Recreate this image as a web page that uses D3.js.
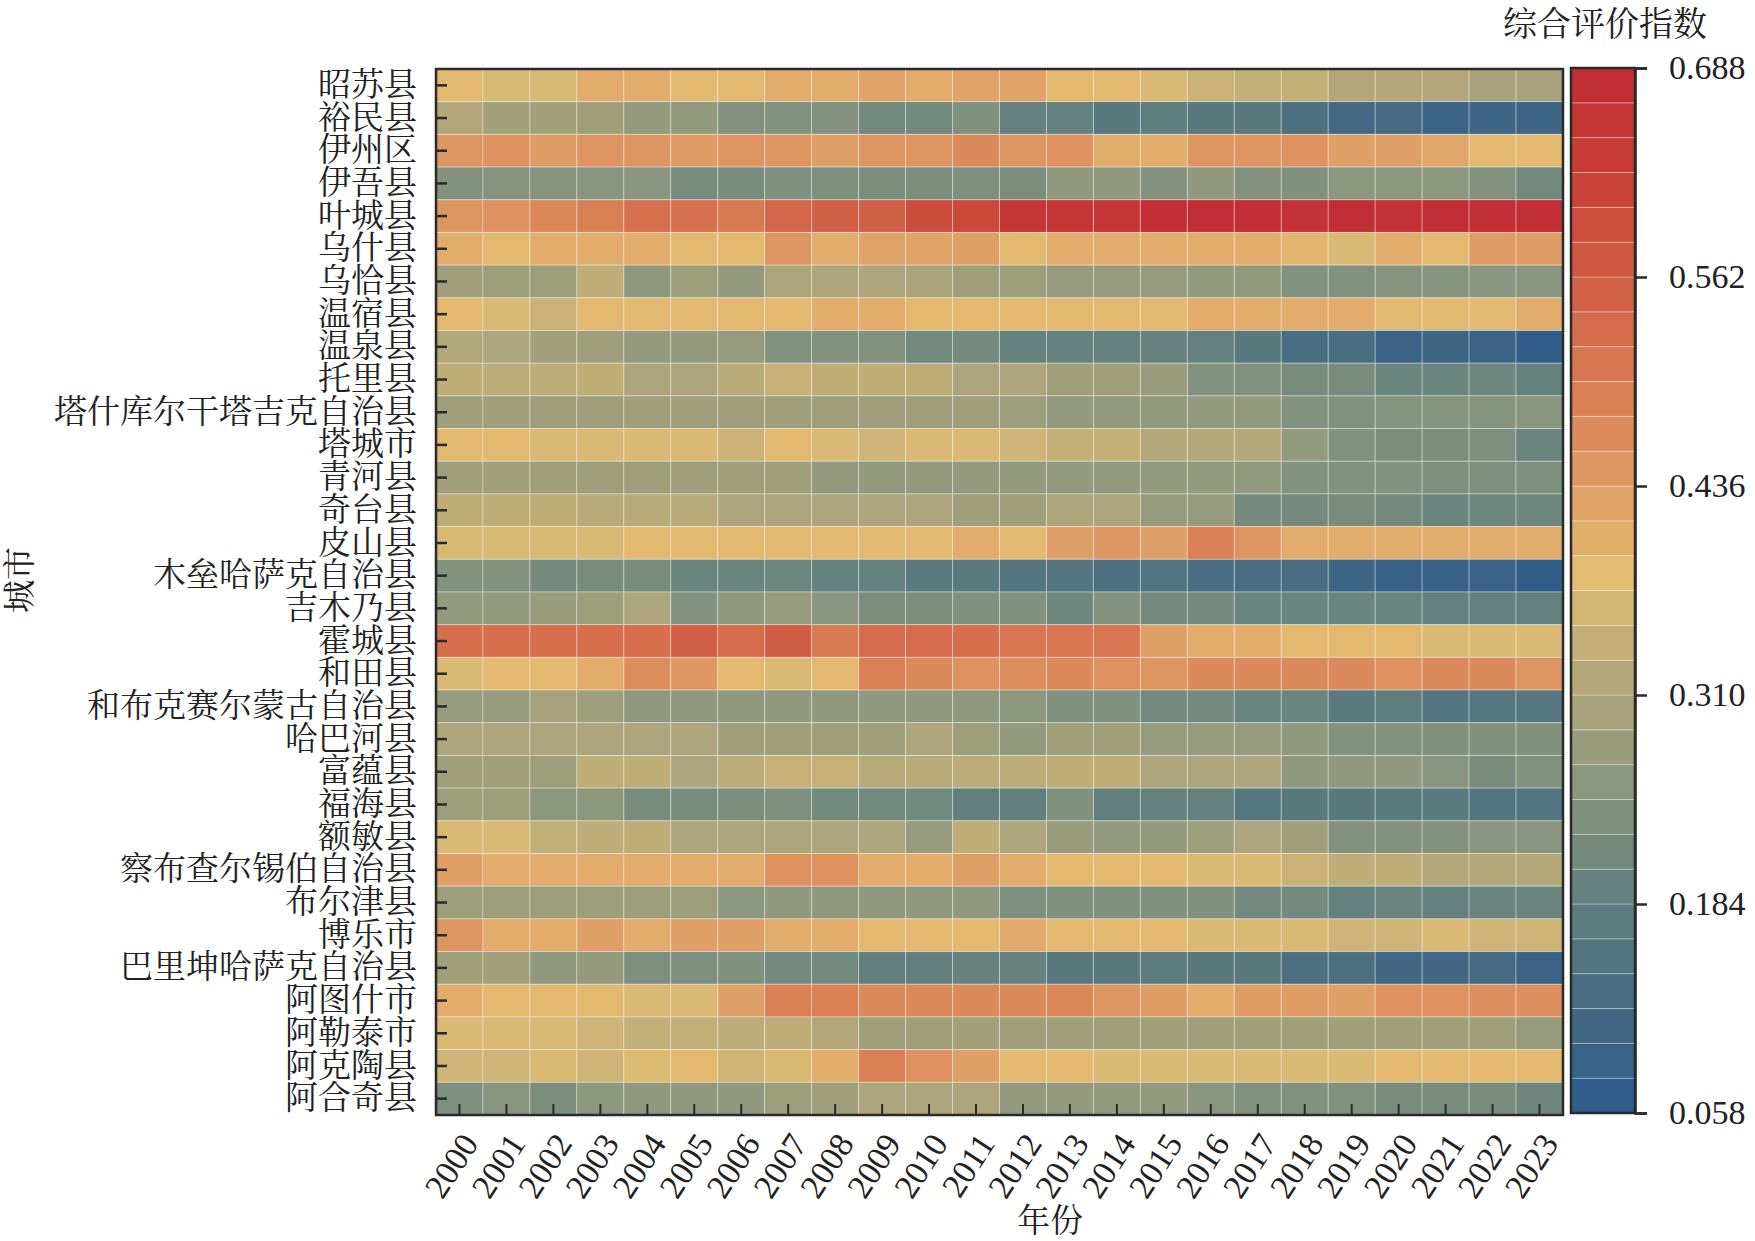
<!DOCTYPE html>
<html>
<head>
<meta charset="utf-8">
<script src="https://cdn.jsdelivr.net/npm/d3@7"></script>
<style>
  body { margin: 0; background: #fff; }
  svg text { fill: #222; }
</style>
</head>
<body>
<svg id="chart"></svg>
<script>

// rows, top to bottom
var cities = ["昭苏县","裕民县","伊州区","伊吾县","叶城县","乌什县","乌恰县","温宿县","温泉县","托里县",
  "塔什库尔干塔吉克自治县","塔城市","青河县","奇台县","皮山县","木垒哈萨克自治县","吉木乃县","霍城县","和田县",
  "和布克赛尔蒙古自治县","哈巴河县","富蕴县","福海县","额敏县","察布查尔锡伯自治县","布尔津县","博乐市",
  "巴里坤哈萨克自治县","阿图什市","阿勒泰市","阿克陶县","阿合奇县"];

var years = ["2000","2001","2002","2003","2004","2005","2006","2007","2008","2009","2010","2011",
  "2012","2013","2014","2015","2016","2017","2018","2019","2020","2021","2022","2023"];

// 综合评价指数, one row per city, 2000..2023
var values = [
  [0.39,0.37,0.37,0.41,0.41,0.39,0.39,0.41,0.41,0.425,0.41,0.425,0.425,0.39,0.39,0.37,0.35,0.34,0.34,0.32,0.32,0.32,0.30,0.30],
  [0.315,0.295,0.295,0.29,0.27,0.27,0.245,0.245,0.245,0.215,0.215,0.24,0.19,0.19,0.165,0.18,0.165,0.165,0.14,0.115,0.12,0.095,0.10,0.10],
  [0.45,0.455,0.435,0.45,0.45,0.435,0.45,0.445,0.43,0.45,0.45,0.47,0.45,0.455,0.41,0.41,0.45,0.45,0.455,0.43,0.43,0.42,0.39,0.39],
  [0.245,0.25,0.25,0.255,0.255,0.225,0.225,0.235,0.235,0.23,0.23,0.235,0.23,0.265,0.265,0.245,0.265,0.245,0.24,0.26,0.26,0.26,0.245,0.215],
  [0.45,0.455,0.475,0.49,0.52,0.52,0.50,0.54,0.555,0.555,0.595,0.60,0.66,0.66,0.66,0.68,0.685,0.68,0.67,0.685,0.67,0.685,0.68,0.68],
  [0.41,0.39,0.41,0.41,0.41,0.39,0.39,0.45,0.41,0.425,0.425,0.43,0.39,0.41,0.41,0.41,0.41,0.41,0.395,0.37,0.41,0.39,0.435,0.435],
  [0.29,0.285,0.285,0.335,0.265,0.285,0.27,0.31,0.31,0.31,0.305,0.29,0.285,0.275,0.275,0.275,0.27,0.27,0.245,0.245,0.25,0.25,0.255,0.255],
  [0.39,0.37,0.35,0.39,0.39,0.39,0.39,0.39,0.41,0.41,0.39,0.39,0.39,0.39,0.39,0.39,0.41,0.41,0.41,0.41,0.39,0.39,0.39,0.41],
  [0.315,0.31,0.295,0.29,0.27,0.27,0.275,0.245,0.245,0.245,0.215,0.22,0.19,0.19,0.19,0.195,0.19,0.165,0.13,0.13,0.095,0.10,0.095,0.07],
  [0.335,0.33,0.33,0.335,0.31,0.31,0.325,0.345,0.335,0.335,0.335,0.31,0.31,0.29,0.29,0.28,0.245,0.245,0.225,0.225,0.20,0.20,0.205,0.19],
  [0.29,0.29,0.29,0.29,0.29,0.29,0.29,0.29,0.29,0.29,0.29,0.29,0.285,0.27,0.27,0.27,0.27,0.27,0.245,0.245,0.25,0.25,0.25,0.255],
  [0.39,0.39,0.37,0.37,0.37,0.37,0.35,0.39,0.37,0.355,0.37,0.37,0.355,0.34,0.34,0.32,0.32,0.32,0.27,0.245,0.23,0.23,0.235,0.20],
  [0.29,0.29,0.29,0.29,0.29,0.29,0.29,0.29,0.27,0.27,0.27,0.27,0.27,0.27,0.27,0.27,0.27,0.27,0.245,0.245,0.245,0.235,0.235,0.235],
  [0.335,0.335,0.335,0.325,0.325,0.325,0.31,0.31,0.31,0.31,0.31,0.29,0.29,0.31,0.31,0.275,0.275,0.22,0.22,0.225,0.22,0.20,0.205,0.205],
  [0.37,0.37,0.37,0.37,0.39,0.39,0.39,0.39,0.39,0.39,0.39,0.41,0.39,0.43,0.45,0.43,0.49,0.45,0.41,0.41,0.41,0.41,0.41,0.41],
  [0.245,0.245,0.22,0.225,0.225,0.20,0.20,0.205,0.19,0.19,0.17,0.17,0.155,0.155,0.14,0.15,0.13,0.13,0.13,0.10,0.085,0.085,0.09,0.07],
  [0.27,0.27,0.28,0.285,0.31,0.245,0.265,0.275,0.255,0.23,0.23,0.24,0.24,0.21,0.245,0.22,0.22,0.20,0.20,0.20,0.20,0.19,0.19,0.19],
  [0.525,0.525,0.525,0.525,0.525,0.555,0.53,0.56,0.50,0.53,0.53,0.525,0.51,0.51,0.51,0.43,0.41,0.41,0.39,0.39,0.39,0.37,0.37,0.37],
  [0.37,0.39,0.39,0.41,0.465,0.445,0.39,0.37,0.39,0.49,0.47,0.455,0.465,0.47,0.455,0.45,0.47,0.47,0.47,0.47,0.455,0.47,0.47,0.45],
  [0.275,0.275,0.30,0.285,0.265,0.265,0.265,0.265,0.265,0.265,0.265,0.265,0.26,0.24,0.24,0.22,0.22,0.20,0.20,0.17,0.18,0.155,0.16,0.16],
  [0.31,0.31,0.31,0.31,0.31,0.31,0.29,0.29,0.29,0.29,0.31,0.285,0.27,0.29,0.29,0.275,0.275,0.275,0.265,0.245,0.245,0.24,0.24,0.24],
  [0.29,0.29,0.285,0.335,0.335,0.31,0.33,0.345,0.345,0.325,0.325,0.33,0.33,0.335,0.335,0.31,0.31,0.31,0.265,0.265,0.265,0.255,0.225,0.245],
  [0.285,0.285,0.26,0.26,0.225,0.225,0.23,0.235,0.215,0.215,0.215,0.185,0.185,0.24,0.185,0.19,0.19,0.16,0.165,0.165,0.17,0.17,0.15,0.15],
  [0.37,0.37,0.34,0.335,0.335,0.31,0.31,0.31,0.31,0.31,0.275,0.335,0.31,0.28,0.27,0.27,0.285,0.31,0.29,0.245,0.245,0.245,0.255,0.255],
  [0.43,0.41,0.41,0.41,0.41,0.41,0.41,0.455,0.455,0.41,0.41,0.43,0.41,0.39,0.39,0.39,0.37,0.37,0.35,0.335,0.335,0.32,0.32,0.32],
  [0.285,0.285,0.285,0.285,0.285,0.285,0.26,0.265,0.265,0.265,0.265,0.265,0.24,0.24,0.24,0.24,0.24,0.22,0.22,0.19,0.20,0.19,0.20,0.20],
  [0.45,0.41,0.41,0.43,0.41,0.43,0.43,0.41,0.41,0.39,0.39,0.39,0.415,0.39,0.39,0.39,0.37,0.37,0.37,0.355,0.355,0.37,0.355,0.355],
  [0.29,0.29,0.265,0.27,0.235,0.235,0.24,0.215,0.215,0.185,0.185,0.195,0.195,0.165,0.165,0.175,0.165,0.165,0.14,0.14,0.11,0.11,0.12,0.095],
  [0.41,0.39,0.39,0.39,0.37,0.37,0.43,0.49,0.49,0.47,0.47,0.47,0.47,0.475,0.45,0.435,0.41,0.435,0.435,0.43,0.455,0.455,0.46,0.46],
  [0.37,0.37,0.37,0.355,0.34,0.34,0.33,0.335,0.315,0.29,0.29,0.295,0.29,0.29,0.29,0.29,0.29,0.29,0.29,0.29,0.29,0.29,0.29,0.275],
  [0.355,0.355,0.37,0.355,0.375,0.39,0.355,0.37,0.41,0.49,0.455,0.43,0.39,0.39,0.37,0.37,0.37,0.37,0.37,0.37,0.39,0.39,0.39,0.39],
  [0.235,0.255,0.23,0.26,0.265,0.265,0.265,0.285,0.29,0.31,0.31,0.31,0.27,0.27,0.27,0.27,0.255,0.245,0.245,0.245,0.225,0.225,0.225,0.21]
];

var colorTicks = [0.058,0.184,0.310,0.436,0.562,0.688];
var colorMin = 0.058, colorMax = 0.688, colorSteps = 30;

var width = 1755;
var height = 1241;
var margin = {left:436, top:69, right:192, bottom:126};
var plotW = width - margin.left - margin.right;
var plotH = height - margin.top - margin.bottom;

var cjk = "'Liberation Serif','Noto Serif CJK SC','Noto Sans CJK SC',serif";
var serif = "'Liberation Serif','Times New Roman',serif";

var svg = d3.select("#chart")
  .attr("width",width)
  .attr("height",height);

var x = d3.scaleBand().domain(years).range([margin.left, margin.left+plotW]);
var y = d3.scaleBand().domain(cities).range([margin.top, margin.top+plotH]);

var color = d3.scaleLinear()
  .domain([0.058,0.121,0.184,0.247,0.310,0.3835,0.436,0.499,0.562,0.625,0.688])
  .range(["#2d5a8b","#456a82","#617f7e","#84937e","#ada57b","#e3bd73","#df9c65","#d87b52","#d05d44","#c73e36","#c12d35"])
  .clamp(true);

// flatten into cells
var cells = [];
cities.forEach(function(c,i)
{
  years.forEach(function(yr,j)
  {
    cells.push({city:c, year:yr, v:values[i][j]});
  });
});

svg.append("g").selectAll("rect")
  .data(cells)
  .enter()
  .append("rect")
  .attr("x",function(d){ return x(d.year); })
  .attr("y",function(d){ return y(d.city); })
  .attr("width",x.bandwidth())
  .attr("height",y.bandwidth())
  .attr("fill",function(d){ return color(d.v); })
  .attr("stroke","rgba(255,255,255,0.35)")
  .attr("stroke-width",1);

// frame
svg.append("rect")
  .attr("x",margin.left).attr("y",margin.top)
  .attr("width",plotW).attr("height",plotH)
  .attr("fill","none").attr("stroke","#2a2a2a").attr("stroke-width",2.5);

// y axis, ticks inward
var yAxis = svg.append("g")
  .attr("transform","translate("+margin.left+",0)")
  .call(d3.axisLeft(y).tickSizeInner(-11).tickSizeOuter(0).tickPadding(19));
yAxis.select(".domain").remove();
yAxis.selectAll("line").attr("stroke","#2a2a2a").attr("stroke-width",2.5);
yAxis.selectAll("text")
  .attr("font-family",cjk).attr("font-size",33).attr("fill","#222");

// x axis, ticks inward
var xAxis = svg.append("g")
  .attr("transform","translate(0,"+(margin.top+plotH)+")")
  .call(d3.axisBottom(x).tickSizeInner(-11).tickSizeOuter(0).tickFormat(""));
xAxis.select(".domain").remove();
xAxis.selectAll("line").attr("stroke","#2a2a2a").attr("stroke-width",2);

svg.append("g").selectAll("text")
  .data(years)
  .enter()
  .append("text")
  .attr("transform",function(d)
  {
    return "translate("+(x(d)+x.bandwidth()/2+10)+","+(margin.top+plotH+22)+") rotate(-57)";
  })
  .attr("text-anchor","end")
  .attr("dy","0.35em")
  .attr("font-family",serif)
  .attr("font-size",34)
  .text(function(d){ return d; });

// axis titles
svg.append("text")
  .attr("transform","translate(19,580) rotate(-90)")
  .attr("text-anchor","middle")
  .attr("dy","0.35em")
  .attr("font-family",cjk).attr("font-size",33)
  .text("城市");

svg.append("text")
  .attr("x",1050).attr("y",1220)
  .attr("text-anchor","middle")
  .attr("dy","0.35em")
  .attr("font-family",cjk).attr("font-size",33)
  .text("年份");

// colour bar
var cbX = 1571, cbW = 64, cbTop = 68, cbBottom = 1113;
var cbY = d3.scaleLinear().domain([colorMin,colorMax]).range([cbBottom,cbTop]);
var step = (colorMax-colorMin)/colorSteps;
var bands = d3.range(colorSteps).map(function(i){ return colorMin + i*step; });

svg.append("g").selectAll("rect")
  .data(bands)
  .enter()
  .append("rect")
  .attr("x",cbX)
  .attr("y",function(d){ return cbY(d+step); })
  .attr("width",cbW)
  .attr("height",function(d){ return cbY(d) - cbY(d+step); })
  .attr("fill",function(d){ return color(d+step/2); })
  .attr("stroke","rgba(255,255,255,0.3)")
  .attr("stroke-width",1);

svg.append("rect")
  .attr("x",cbX).attr("y",cbTop)
  .attr("width",cbW).attr("height",cbBottom-cbTop)
  .attr("fill","none").attr("stroke","#2a2a2a").attr("stroke-width",2.5);

var cAxis = svg.append("g")
  .attr("transform","translate("+(cbX+cbW)+",0)")
  .call(d3.axisRight(cbY).tickValues(colorTicks).tickSize(12).tickPadding(22).tickFormat(d3.format(".3f")));
cAxis.select(".domain").attr("stroke","#2a2a2a").attr("stroke-width",2.5);
cAxis.selectAll("line").attr("stroke","#2a2a2a").attr("stroke-width",2.5);
cAxis.selectAll("text").attr("font-family",serif).attr("font-size",34).attr("fill","#222");

svg.append("text")
  .attr("x",1605).attr("y",24)
  .attr("text-anchor","middle")
  .attr("dy","0.35em")
  .attr("font-family",cjk).attr("font-size",34)
  .text("综合评价指数");

</script>
</body>
</html>
